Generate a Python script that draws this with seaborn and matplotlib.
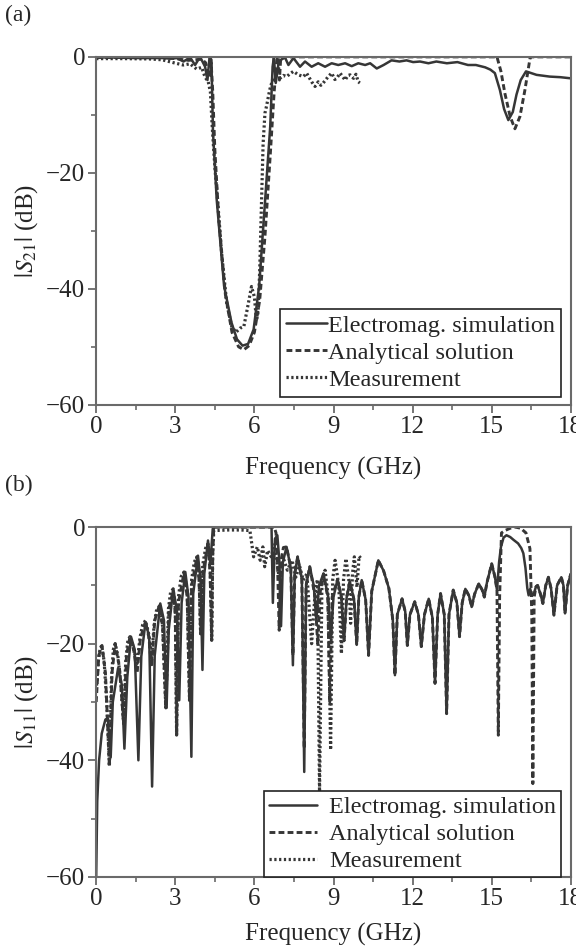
import matplotlib
matplotlib.use("Agg")
import matplotlib.pyplot as plt
from matplotlib.ticker import MultipleLocator
import seaborn as sns
import pandas as pd

# ---------------- data (frequency GHz, magnitude dB) ----------------
S21_SIM = [(0.0, -0.1), (0.5, -0.1), (1.0, -0.15), (1.5, -0.2), (2.0, -0.2), (2.5, -0.2),
           (2.8, -0.3), (3.06, -0.2), (3.31, -0.8), (3.56, -0.1), (3.75, -1.4), (3.94, 0.0),
           (4.13, -1.7), (4.22, -4.0), (4.3, 0.0), (4.37, -0.5), (4.43, -13.0), (4.57, -24.6),
           (4.85, -39.5), (5.13, -45.8), (5.34, -48.7), (5.55, -49.8), (5.76, -49.5), (5.97, -47.0),
           (6.18, -39.5), (6.39, -25.8), (6.6, -12.0), (6.69, -1.7), (6.74, -0.1), (6.81, -4.5),
           (6.92, -0.9), (7.01, -0.5), (7.16, -0.1), (7.29, -1.4), (7.48, -0.2), (7.73, -1.7),
           (7.92, -0.8), (8.17, -1.7), (8.42, -1.1), (8.68, -1.7), (8.93, -1.1), (9.18, -1.4),
           (9.44, -1.1), (9.69, -1.6), (9.94, -1.1), (10.2, -1.4), (10.39, -1.1), (10.64, -2.0),
           (10.9, -1.4), (11.2, -0.6), (11.5, -0.8), (11.77, -0.6), (12.02, -0.9), (12.28, -0.8),
           (12.6, -1.1), (12.9, -0.8), (13.3, -1.1), (13.7, -0.9), (14.1, -1.4), (14.4, -1.4),
           (14.75, -1.8), (14.95, -2.2), (15.12, -2.8), (15.31, -5.7), (15.47, -9.0), (15.63, -10.9),
           (15.8, -9.5), (15.94, -6.5), (16.1, -4.0), (16.3, -2.5), (16.7, -3.1), (17.2, -3.4),
           (17.6, -3.5), (18.0, -3.7)]

S21_ANA = [(0.0, -0.1), (2.5, -0.1), (3.0, -0.3), (3.5, -0.6), (4.0, -0.4), (4.15, -1.0),
           (4.3, -3.5), (4.36, -1.0), (4.42, -6.0), (4.5, -16.0), (4.65, -28.0), (4.9, -41.0),
           (5.15, -47.5), (5.4, -50.0), (5.6, -50.5), (5.8, -49.8), (6.0, -47.5), (6.2, -42.0),
           (6.4, -31.0), (6.6, -17.0), (6.75, -6.0), (6.85, -0.5), (6.9, 0.0), (6.95, -4.0),
           (7.0, 0.0), (15.2, 0.0), (15.35, -2.5), (15.5, -6.3), (15.7, -10.3), (15.88, -12.4),
           (16.07, -10.3), (16.26, -5.7), (16.45, -0.3), (16.5, 0.0), (18.0, 0.0)]

S21_MEAS = [(0.0, -0.3), (1.0, -0.3), (2.0, -0.35), (2.5, -0.5), (2.93, -1.0), (3.3, -1.4),
            (3.56, -1.2), (3.81, -2.1), (4.0, -1.8), (4.13, -3.5), (4.25, -4.3), (4.33, -6.0),
            (4.4, -12.0), (4.5, -19.0), (4.6, -24.5), (4.76, -34.0), (4.95, -42.5), (5.14, -46.5),
            (5.3, -47.5), (5.45, -46.8), (5.6, -46.5), (5.75, -43.0), (5.89, -39.6), (6.0, -41.4),
            (6.08, -45.5), (6.14, -44.0), (6.2, -37.0), (6.27, -25.0), (6.33, -15.0), (6.4, -9.7),
            (6.46, -8.5), (6.58, -5.7), (6.71, -3.6), (6.85, -3.5), (6.97, -3.7), (7.1, -3.2),
            (7.23, -3.4), (7.35, -2.9), (7.48, -2.5), (7.67, -3.1), (7.86, -3.4), (7.98, -2.8),
            (8.17, -4.3), (8.3, -5.1), (8.42, -4.3), (8.52, -4.9), (8.61, -4.5), (8.8, -3.4),
            (8.93, -2.8), (9.05, -3.9), (9.12, -3.7), (9.25, -2.8), (9.44, -4.0), (9.55, -3.2),
            (9.63, -3.1), (9.76, -3.7), (9.85, -3.0), (9.94, -4.3), (10.0, -4.5)]

S11_SIM = [(0.0, -60.0), (0.04, -47.0), (0.11, -40.0), (0.21, -35.4), (0.35, -33.0), (0.44, -32.8),
           (0.55, -39.5), (0.63, -30.0), (0.83, -24.2), (0.97, -27.0), (1.07, -38.0), (1.18, -25.7),
           (1.32, -18.8), (1.46, -21.0), (1.6, -40.0), (1.71, -22.2), (1.87, -16.3), (2.01, -18.8),
           (2.12, -44.5), (2.22, -22.0), (2.43, -13.1), (2.57, -16.0), (2.67, -31.0), (2.75, -17.7),
           (2.92, -10.6), (3.06, -14.3), (3.15, -29.7), (3.24, -13.0), (3.38, -7.7), (3.5, -12.0),
           (3.61, -39.4), (3.68, -11.4), (3.86, -4.9), (3.96, -9.1), (4.03, -24.5), (4.1, -8.0),
           (4.24, -2.3), (4.33, -6.3), (4.42, -0.3), (4.51, 0.0), (6.65, 0.0), (6.7, -13.0),
           (6.78, -2.0), (6.87, -1.4), (6.95, -6.0), (7.01, -17.0), (7.08, -6.0), (7.22, -3.4),
           (7.38, -7.0), (7.46, -23.7), (7.53, -8.0), (7.64, -5.1), (7.8, -9.0), (7.89, -42.0),
           (7.96, -10.0), (8.1, -6.8), (8.25, -10.0), (8.35, -16.0), (8.45, -10.0), (8.62, -8.0),
           (8.8, -12.0), (8.9, -19.0), (9.0, -12.0), (9.15, -9.0), (9.3, -12.0), (9.4, -19.5),
           (9.5, -12.0), (9.62, -9.4), (9.78, -12.5), (9.88, -20.2), (9.96, -12.0), (10.07, -9.1),
           (10.22, -12.5), (10.33, -22.0), (10.45, -11.0), (10.7, -5.7), (10.9, -7.5), (11.1, -10.5),
           (11.25, -16.0), (11.33, -25.4), (11.42, -15.0), (11.6, -12.3), (11.72, -14.5), (11.8, -20.3),
           (11.9, -15.0), (12.08, -12.8), (12.22, -15.0), (12.33, -20.5), (12.45, -15.0), (12.61, -12.3),
           (12.75, -15.5), (12.85, -26.8), (12.95, -15.0), (13.06, -11.4), (13.2, -15.0), (13.29, -32.0),
           (13.38, -15.0), (13.54, -10.8), (13.68, -13.0), (13.78, -18.8), (13.88, -13.0), (14.0, -10.6),
           (14.14, -11.8), (14.24, -13.7), (14.35, -11.5), (14.51, -9.7), (14.64, -10.8), (14.72, -12.0),
           (14.82, -9.5), (15.0, -6.3), (15.12, -8.5), (15.2, -10.8), (15.28, -6.0), (15.35, -3.4),
           (15.45, -1.8), (15.56, -1.4), (15.7, -1.7), (15.83, -2.2), (16.0, -2.8), (16.12, -3.6),
           (16.2, -4.5), (16.28, -7.0), (16.35, -10.5), (16.4, -11.7), (16.46, -10.6), (16.53, -11.8),
           (16.6, -11.4), (16.68, -10.2), (16.74, -10.0), (16.85, -11.5), (16.94, -13.1), (17.05, -10.0),
           (17.15, -8.6), (17.25, -10.5), (17.36, -15.1), (17.48, -10.0), (17.64, -8.6), (17.72, -10.0),
           (17.78, -14.8), (17.88, -10.0), (18.0, -8.0)]

S11_ANA = [(0.0, -30.0), (0.1, -22.0), (0.22, -20.3), (0.35, -25.0), (0.5, -41.0), (0.6, -25.0),
           (0.72, -20.0), (0.88, -24.0), (1.04, -33.7), (1.15, -22.0), (1.28, -18.8), (1.42, -21.0),
           (1.55, -25.0), (1.68, -19.0), (1.87, -16.2), (2.0, -19.0), (2.1, -24.0), (2.22, -16.0),
           (2.39, -13.5), (2.52, -17.0), (2.64, -31.0), (2.76, -14.0), (2.92, -10.8), (3.0, -15.0),
           (3.05, -35.7), (3.12, -13.0), (3.33, -7.8), (3.45, -12.0), (3.54, -29.7), (3.62, -10.0),
           (3.82, -5.2), (3.9, -9.0), (3.96, -18.3), (4.04, -8.0), (4.24, -2.7), (4.32, -8.0),
           (4.38, -19.4), (4.42, -5.0), (4.46, 0.0), (6.75, 0.0), (6.82, -1.0), (6.87, -5.0),
           (6.94, -17.7), (7.0, -6.0), (7.1, -3.5), (7.22, -3.4), (7.38, -7.0), (7.46, -22.0),
           (7.53, -8.0), (7.64, -5.1), (7.8, -9.0), (7.89, -38.0), (7.96, -10.0), (8.1, -6.8),
           (8.3, -12.0), (8.4, -20.0), (8.5, -11.0), (8.62, -8.0), (8.78, -12.0), (8.86, -30.0),
           (8.95, -12.0), (9.15, -9.0), (9.3, -12.0), (9.4, -19.5), (9.5, -12.0), (9.62, -9.4),
           (9.78, -12.5), (9.88, -20.2), (9.96, -12.0), (10.07, -9.1), (10.22, -12.5), (10.33, -22.0),
           (10.45, -11.0), (10.7, -5.7), (10.9, -7.5), (11.1, -10.5), (11.25, -16.0), (11.33, -25.4),
           (11.42, -15.0), (11.6, -12.3), (11.72, -14.5), (11.8, -20.3), (11.9, -15.0), (12.08, -12.8),
           (12.22, -15.0), (12.33, -20.5), (12.45, -15.0), (12.61, -12.3), (12.75, -15.5), (12.85, -26.8),
           (12.95, -15.0), (13.06, -11.4), (13.2, -15.0), (13.29, -32.0), (13.38, -15.0), (13.54, -10.8),
           (13.68, -13.0), (13.78, -18.8), (13.88, -13.0), (14.0, -10.6), (14.14, -11.8), (14.24, -13.7),
           (14.35, -11.5), (14.51, -9.7), (14.64, -10.8), (14.72, -12.0), (14.82, -9.5), (15.0, -6.3),
           (15.12, -8.5), (15.2, -10.8), (15.25, -35.7), (15.3, -12.0), (15.37, -1.0), (15.5, -0.6),
           (15.7, -0.2), (15.9, 0.0), (16.1, -0.2), (16.3, -1.0), (16.45, -3.7), (16.52, -15.0),
           (16.56, -44.0), (16.61, -12.0), (16.68, -10.2), (16.74, -10.0), (16.85, -11.5), (16.94, -13.1),
           (17.05, -10.0), (17.15, -8.6), (17.25, -10.5), (17.36, -15.1), (17.48, -10.0), (17.64, -8.6),
           (17.72, -10.0), (17.78, -14.8), (17.88, -10.0), (18.0, -8.0)]

S11_MEAS = [(0.0, -28.0), (0.08, -23.0), (0.15, -20.8), (0.21, -20.3), (0.3, -23.0), (0.4, -30.0),
            (0.5, -41.0), (0.58, -26.0), (0.65, -21.0), (0.72, -20.0), (0.82, -22.0), (0.94, -27.0),
            (1.04, -33.7), (1.12, -23.0), (1.2, -19.5), (1.28, -18.8), (1.4, -20.5), (1.55, -23.4),
            (1.66, -19.0), (1.76, -16.8), (1.87, -16.0), (2.0, -18.5), (2.1, -22.8), (2.2, -16.5),
            (2.3, -14.0), (2.39, -13.7), (2.52, -17.0), (2.64, -31.0), (2.74, -14.0), (2.82, -11.2),
            (2.92, -10.6), (3.0, -14.0), (3.05, -35.7), (3.12, -12.0), (3.22, -8.5), (3.33, -7.7),
            (3.45, -11.0), (3.54, -29.7), (3.62, -9.0), (3.72, -6.0), (3.82, -5.1), (3.9, -8.0),
            (3.96, -18.3), (4.04, -6.5), (4.15, -3.6), (4.24, -2.9), (4.32, -6.0), (4.38, -19.4),
            (4.42, -4.0), (4.46, -0.6), (5.0, -0.5), (5.5, -0.5), (5.83, -0.6), (5.97, -5.1),
            (6.11, -3.4), (6.22, -5.7), (6.32, -3.4), (6.39, -6.8), (6.5, -4.0), (6.64, -5.1),
            (6.78, -2.9), (6.94, -9.0), (7.08, -5.1), (7.25, -7.4), (7.43, -5.7), (7.57, -8.6),
            (7.71, -6.6), (7.85, -9.1), (7.99, -8.0), (8.17, -20.0), (8.3, -11.4), (8.39, -9.0),
            (8.47, -45.4), (8.56, -10.0), (8.68, -7.4), (8.8, -12.0), (8.89, -38.2), (8.97, -9.0),
            (9.06, -5.7), (9.2, -10.0), (9.3, -21.7), (9.38, -9.0), (9.47, -5.4), (9.58, -9.0),
            (9.65, -16.5), (9.72, -8.0), (9.79, -5.1), (9.89, -10.3), (9.97, -5.0), (10.03, -5.3)]

LABELS = ["Electromag. simulation", "Analytical solution", "Measurement"]
X_TICKS = [0, 3, 6, 9, 12, 15, 18]
Y_TICKS = [0, -20, -40, -60]

# ---------------- style ----------------
sns.set_style("ticks")
plt.rcParams["font.family"] = ["Liberation Serif", "DejaVu Serif"]
plt.rcParams["mathtext.fontset"] = "stix"
plt.rcParams["font.size"] = 18
plt.rcParams["axes.unicode_minus"] = True

LINE = "#363636"
SPINE = "#6a6a6a"
FS = 18

fig = plt.figure(figsize=(5.76, 9.48), dpi=100)
ax_a = fig.add_axes([0.167, 0.573, 0.824, 0.367])
ax_b = fig.add_axes([0.167, 0.075, 0.824, 0.369])


def to_df(pairs):
    return pd.DataFrame(pairs, columns=["f", "db"])


def draw(ax, sim, ana, meas, ylabel, leg_kw):
    sns.lineplot(data=to_df(sim), x="f", y="db", ax=ax, color=LINE, lw=1.8,
                 linestyle="-", estimator=None, sort=False, label=LABELS[0])
    sns.lineplot(data=to_df(ana), x="f", y="db", ax=ax, color=LINE, lw=2.1,
                 dashes=(2.0, 1.1), estimator=None, sort=False, label=LABELS[1])
    sns.lineplot(data=to_df(meas), x="f", y="db", ax=ax, color=LINE, lw=2.3,
                 dashes=(0.7, 0.8), estimator=None, sort=False, label=LABELS[2])
    ax.set_xlim(0, 18)
    ax.set_ylim(-60, 0)
    ax.set_xticks(X_TICKS)
    ax.set_yticks(Y_TICKS)
    ax.xaxis.set_minor_locator(MultipleLocator(1.5))
    ax.yaxis.set_minor_locator(MultipleLocator(10))
    ax.tick_params(which="major", direction="out", length=6, width=1.3, color=SPINE,
                   labelsize=FS, pad=2)
    ax.tick_params(which="minor", direction="out", length=3.5, width=1.2, color=SPINE)
    for s in ax.spines.values():
        s.set_color(SPINE)
        s.set_linewidth(1.5)
    ax.set_ylabel(ylabel, fontsize=FS, labelpad=4)
    leg = ax.legend(frameon=True, fancybox=False, fontsize=17.5, borderaxespad=0,
                    **leg_kw)
    leg.get_frame().set_edgecolor("#222222")
    leg.get_frame().set_linewidth(1.2)
    leg.get_frame().set_alpha(1)


draw(ax_a, S21_SIM, S21_ANA, S21_MEAS, r"$|S_{21}|$ (dB)",
     dict(loc="lower right", bbox_to_anchor=(0.98, 0.023), handlelength=1.7,
          handletextpad=0.05, labelspacing=0.2, borderpad=0.25))
draw(ax_b, S11_SIM, S11_ANA, S11_MEAS, r"$|S_{11}|$ (dB)",
     dict(loc="lower right", bbox_to_anchor=(0.98, 0.0), handlelength=2.0,
          handletextpad=0.5, labelspacing=0.2, borderpad=0.2))

ax_a.set_xlabel("Frequency (GHz)", fontsize=FS, labelpad=14)
ax_b.set_xlabel("Frequency (GHz)", fontsize=FS, labelpad=9)

fig.text(0.008, 0.984, "(a)", fontsize=17, va="center", ha="left")
fig.text(0.008, 0.488, "(b)", fontsize=17, va="center", ha="left")

fig.savefig("out.png", dpi=100)
